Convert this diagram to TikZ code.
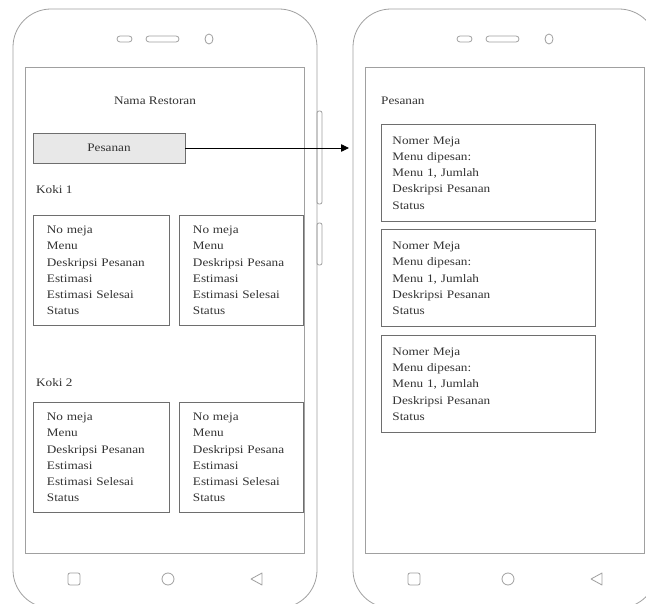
\documentclass[tikz,border=0pt]{standalone}
\usepackage{fontspec}
\setmainfont{Liberation Serif}[FakeStretch=1.15]
\usetikzlibrary{arrows.meta,shapes.geometric}
\definecolor{phonegray}{HTML}{A0A0A0}
\definecolor{boxgray}{HTML}{6E6E6E}
\definecolor{txt}{HTML}{333333}
\definecolor{btnfill}{HTML}{E8E8E8}
\begin{document}
\begin{tikzpicture}[x=1pt,y=-1pt,
  phone/.style={draw=phonegray,line width=0.8pt,rounded corners=38pt},
  screen/.style={draw=phonegray,line width=0.8pt},
  deco/.style={draw=phonegray,line width=0.8pt},
  txtstyle/.style={text=txt,font=\fontsize{11.5}{16.3}\selectfont,inner sep=0pt},
  card/.style={draw=boxgray,line width=0.9pt,txtstyle,align=left,inner ysep=0pt,inner xsep=13.5pt},
  kokicard/.style={card,minimum height=110pt},
  ordercard/.style={card,minimum height=97pt,inner xsep=11pt,text width=192pt},
  btn/.style={draw=boxgray,fill=btnfill,line width=0.9pt,txtstyle,minimum width=152pt,minimum height=30pt}
]
\useasboundingbox (0,0) rectangle (646,604);
\clip (0,0) rectangle (646,604);
\fill[white] (0,0) rectangle (646,604);

% phones
\foreach \o/\n in {0/a,340/b}{
  \begin{scope}[xshift=\o pt]
    \draw[phone] (13,9) rectangle (317,608);
    \draw[screen] (25,67) rectangle (304,553);
    \draw[deco,rounded corners=3pt] (117,36) rectangle (132,42);
    \draw[deco,rounded corners=3pt] (146,36) rectangle (179,42);
    \draw[deco] (209,39) ellipse [x radius=4pt,y radius=5pt];
    \draw[deco,rounded corners=2pt] (68,573) rectangle (80,585);
    \draw[deco] (168,579) circle [radius=6pt];
    \draw[deco,line join=round] (251,579) -- (262,573) -- (262,585) -- cycle;
  \end{scope}
}
% side buttons
\draw[deco,rounded corners=2pt] (317,111) rectangle (322,204);
\draw[deco,rounded corners=2pt] (317,223) rectangle (322,265);

% left phone content
\node[txtstyle] (title) at (155,101) {Nama Restoran};
\node[btn] (pes) at (109,148) {Pesanan};
\node[txtstyle,anchor=west] (koki1) at (36,190) {Koki 1};
\node[kokicard,text width=109pt,anchor=north west] (k1a) at (33,215) {No meja\\Menu\\Deskripsi Pesanan\\Estimasi\\Estimasi Selesai\\Status};
\node[kokicard,text width=97pt,anchor=north west] (k1b) at (179,215) {No meja\\Menu\\Deskripsi Pesana\\Estimasi\\Estimasi Selesai\\Status};
\node[txtstyle,anchor=west] (koki2) at (36,383) {Koki 2};
\node[kokicard,text width=109pt,anchor=north west] (k2a) at (33,402) {No meja\\Menu\\Deskripsi Pesanan\\Estimasi\\Estimasi Selesai\\Status};
\node[kokicard,text width=97pt,anchor=north west] (k2b) at (179,402) {No meja\\Menu\\Deskripsi Pesana\\Estimasi\\Estimasi Selesai\\Status};

% right phone content
\node[txtstyle,anchor=west] (plabel) at (381,101) {Pesanan};
\node[ordercard,anchor=north west] (o1) at (381,124) {Nomer Meja\\Menu dipesan:\\Menu 1, Jumlah\\Deskripsi Pesanan\\Status};
\node[ordercard,anchor=north west] (o2) at (381,229.5) {Nomer Meja\\Menu dipesan:\\Menu 1, Jumlah\\Deskripsi Pesanan\\Status};
\node[ordercard,anchor=north west] (o3) at (381,335) {Nomer Meja\\Menu dipesan:\\Menu 1, Jumlah\\Deskripsi Pesanan\\Status};

% arrow
\coordinate (tgt) at (349,148);
\draw[black,line width=0.8pt,-{Triangle[length=8pt,width=7.5pt]}] (pes.east) -- (tgt);
\end{tikzpicture}
\end{document}
